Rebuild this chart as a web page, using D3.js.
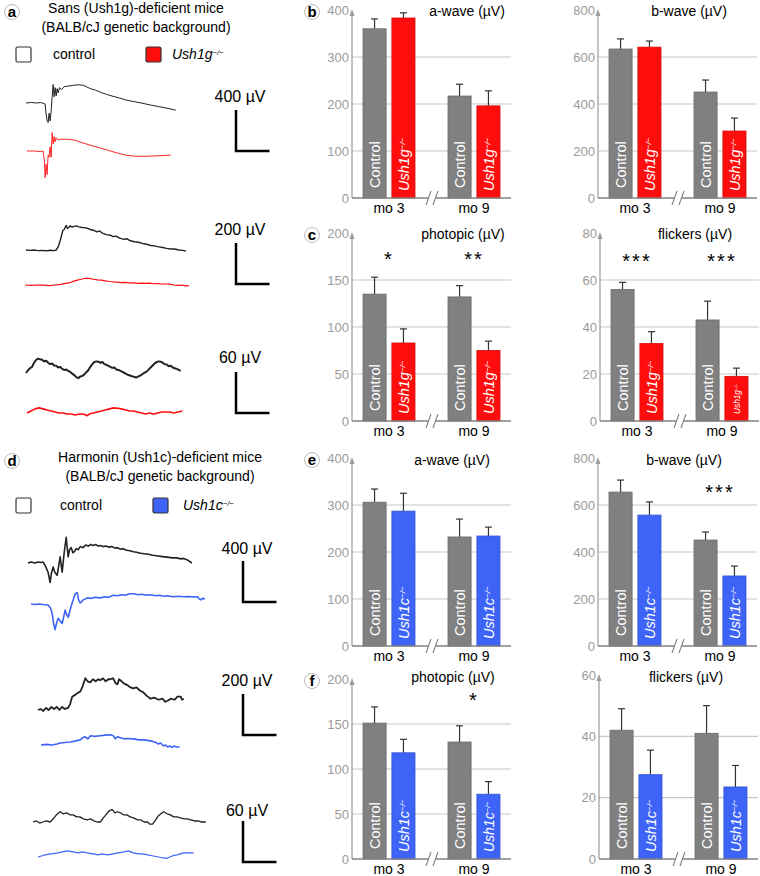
<!DOCTYPE html>
<html>
<head>
<meta charset="utf-8">
<script src="https://cdn.jsdelivr.net/npm/d3@7"></script>
<style>
	body { margin: 0; background: #fff; }
	svg { display: block; font-family: "Liberation Sans", Arial, Helvetica, sans-serif; }
</style>
</head>
<body>
<svg id="fig" width="760" height="876"></svg>
<script>

	// ---- bar data (mean, s.e.m.) per month ----
	var months = [ "mo 3", "mo 9" ];

	var sansAwaveCtrl = [ 360, 217 ], sansAwaveCtrlErr = [ 21, 25 ];
	var sansAwaveMut = [ 383, 196 ], sansAwaveMutErr = [ 11, 32 ];
	var sansBwaveCtrl = [ 634, 451 ], sansBwaveCtrlErr = [ 43, 51 ];
	var sansBwaveMut = [ 642, 285 ], sansBwaveMutErr = [ 26, 55 ];
	var sansPhotCtrl = [ 135, 132 ], sansPhotCtrlErr = [ 18, 12 ];
	var sansPhotMut = [ 83, 75 ], sansPhotMutErr = [ 15, 10 ];
	var sansFlickCtrl = [ 56, 43 ], sansFlickCtrlErr = [ 3, 8 ];
	var sansFlickMut = [ 33, 19 ], sansFlickMutErr = [ 5, 3.5 ];

	var harmAwaveCtrl = [ 306, 232 ], harmAwaveCtrlErr = [ 28, 38 ];
	var harmAwaveMut = [ 287, 234 ], harmAwaveMutErr = [ 38, 19 ];
	var harmBwaveCtrl = [ 655, 451 ], harmBwaveCtrlErr = [ 51, 34 ];
	var harmBwaveMut = [ 557, 298 ], harmBwaveMutErr = [ 56, 42 ];
	var harmPhotCtrl = [ 151, 130 ], harmPhotCtrlErr = [ 18, 18 ];
	var harmPhotMut = [ 118, 72 ], harmPhotMutErr = [ 15, 14 ];
	var harmFlickCtrl = [ 42, 41 ], harmFlickCtrlErr = [ 7, 9 ];
	var harmFlickMut = [ 27.5, 23.5 ], harmFlickMutErr = [ 8, 7 ];

	var sansPhotStars = [ "*", "**" ];
	var sansFlickStars = [ "***", "***" ];
	var harmBwaveStars = [ "", "***" ];
	var harmPhotStars = [ "", "*" ];

	// ---- ERG traces, [ms, µV] from pre-stimulus baseline ----
	var sansScotCtrl = [ [0,0],[8,5],[16,0],[22,5],[28.5,-10],[30,-110],[31.5,-170],[33,-190],[34.5,-100],[36,-175],[37.5,-80],[39,60],[40.5,180],[42,60],[43.5,150],[45,70],[46.5,140],[48,100],[50,150],[53,130],[57,160],[63,165],[70,172],[78,178],[86,172],[96,140],[104,125],[111,105],[120,85],[130,65],[140,48],[148.5,30],[160,15],[172,0],[186,-20],[198,-35],[210,-50],[223.5,-70] ];
	var sansScotMut = [ [0,0],[10,0],[20,-5],[24,0],[26,-100],[27,-260],[28.5,-130],[30,-230],[31.5,-40],[33,-60],[34.5,40],[36,-60],[37.5,180],[39,70],[40.5,140],[42,90],[43.5,130],[46,110],[51,115],[60,115],[72,105],[85,75],[98,50],[109.5,30],[122,5],[135,-20],[147,-40],[160,-50],[172,-52],[184.5,-50],[200,-45],[214.5,-40] ];
	var sansPhotCtrlTrace = [ [0,0],[6,-2],[12,0],[18,-3],[24,-2],[30,-4],[36,-1],[42,-3],[45,0],[48,15],[51,45],[53,70],[55,95],[57,100],[59,115],[60,120],[62,105],[64,110],[66,118],[69,112],[72,115],[75,118],[79,113],[84,110],[90,108],[96,100],[102,95],[106,88],[110,93],[114,82],[120,75],[126,72],[130,65],[134,68],[140,58],[146,52],[150,55],[156,45],[162,40],[168,38],[174,32],[180,28],[186,22],[192,20],[198,15],[204,12],[210,8],[216,5],[222,5],[228,0],[234,-2],[238.5,-5] ];
	var sansPhotMutTrace = [ [0,0],[9,-2],[18,0],[27,-1],[36,-3],[45,0],[54,3],[60,8],[66,10],[72,18],[78,24],[84,28],[90,33],[96,32],[102,28],[108,25],[114,24],[120,20],[126,17],[132,15],[138,14],[144,12],[150,13],[156,10],[162,10],[168,8],[174,9],[180,8],[186,9],[192,6],[198,7],[204,5],[210,5],[216,4],[222,0],[228,-2],[234,0],[240,-4],[244.5,-3] ];
	var sansFlickCtrlTrace = [ [0,0],[3,4],[6,7],[9,9],[12,15],[15,19],[18,21],[21,20],[24,19.5],[27,17],[30,18],[33,15],[36,13],[39,14],[42,11],[45,10.5],[48,8],[51,9],[54,6],[57,4.5],[60,5],[63,3],[66,1.5],[69,-1],[72,-3],[75,-6],[78,-7.5],[81,-5],[84,-4.5],[87,-2],[90,1],[93,4],[96,9],[99,13],[102,16],[105,17],[108,16.5],[111,15],[114,16],[117,13],[120,12],[123,10.5],[126,9],[129,7.5],[132,8],[135,5],[138,4.5],[141,3],[144,1.5],[147,0],[150,-1.5],[153,-3],[156,-4],[159,-5],[162,-6],[165,-6.5],[168,-5],[171,-3.5],[174,-1.5],[177,0.5],[180,2],[183,5],[186,8],[189,11],[192,14],[195,16],[198,17],[201,16.5],[204,15],[207,13],[210,12.5],[213,10],[216,10.5],[219,8],[222,7],[225,6],[228,4.5],[231,3] ];
	var sansFlickMutTrace = [ [0,0],[6,3],[12,6],[18,7.5],[24,6],[30,4.5],[36,3],[42,1.5],[48,0],[54,0],[60,-1.5],[66,-1.5],[72,-3],[78,-1.5],[84,-1.5],[90,-4],[93,-1.5],[99,0],[105,1.5],[111,3],[117,4.5],[123,6],[129,7.5],[135,7],[141,6],[147,4.5],[153,3],[159,3],[165,1.5],[171,0],[177,-1.5],[183,0],[189,-1.5],[195,0],[201,1.5],[207,1.5],[213,1.5],[219,0],[225,1.5],[232,3] ];

	var harmScotCtrl = [ [0,0],[5,10],[10,0],[15,10],[20,5],[22.5,10],[26,-30],[30,-90],[33,-190],[35,-100],[37.5,-40],[40,-90],[43.5,-120],[46,-20],[48,60],[50,-40],[51,-90],[54,100],[57,250],[59,120],[60,60],[62,130],[64.5,150],[67,100],[69,110],[72,140],[75,130],[78,160],[82,150],[86,175],[90,165],[93,180],[97,170],[101,180],[105,165],[108,170],[112,160],[116,165],[120,155],[125,160],[130,145],[133.5,150],[138,135],[142,140],[147,125],[152,120],[157.5,110],[162,105],[168,95],[174,90],[180,85],[186,75],[192,70],[198,65],[204,60],[210,55],[216,50],[222,50],[228,40],[232.5,45],[238,30],[244.5,0] ];
	var harmScotMut = [ [0,0],[6,-5],[12,0],[18,-5],[25.5,-10],[29,-40],[31.5,-90],[34,-200],[36,-250],[38,-190],[40.5,-140],[43,-160],[46.5,-190],[49,-120],[51,-60],[53,-100],[55.5,-130],[60,-20],[64,60],[66,100],[69,110],[71,40],[73.5,10],[78,40],[84,60],[90,55],[96,65],[103.5,60],[110,70],[116,65],[122,85],[129,80],[135,90],[141,85],[147,100],[153,100],[160,90],[166,95],[172,85],[178.5,90],[186,80],[192,85],[198,75],[204,80],[212,70],[220,75],[228,70],[236,72],[244,68],[249,70],[251,50],[253.5,40],[256,55],[259.5,50] ];
	var harmPhotCtrlTrace = [ [0,0],[4,5],[8,-5],[12,10],[16,0],[20,15],[24,5],[28,15],[32,0],[36,15],[40,5],[45,10],[48,30],[51,65],[56,75],[60,85],[63,90],[66,110],[70.5,155],[74,140],[78,135],[82,150],[86,140],[90,150],[93,145],[97,155],[101,140],[105,150],[108,150],[112,155],[116,130],[118.5,125],[121,150],[123,145],[128,130],[134,120],[138,110],[142.5,105],[147,110],[152,95],[157.5,85],[162,70],[168,55],[174,60],[180,50],[186,55],[190,40],[193.5,45],[198,55],[204,50],[208,65],[213,65],[215,50],[217.5,55] ];
	var harmPhotMutTrace = [ [0,0],[8,3],[16,0],[24,5],[28.5,10],[36,12],[44,15],[52,20],[58.5,25],[62,35],[66,40],[70,30],[74,45],[80,42],[88.5,45],[96,48],[103.5,50],[108,45],[111,30],[114,40],[118.5,35],[124,30],[130,32],[138,30],[146,25],[154,25],[163.5,20],[170,15],[175,5],[178.5,10],[183,-5],[186,0],[189,-10],[192,-5],[196,-12],[198,-5],[202,-10],[207,-10] ];
	var harmFlickCtrlTrace = [ [0,0],[5,1.5],[10,-1.5],[15,0],[20,1.5],[25.5,0],[30,4.5],[35,10.5],[40.5,15],[45,12],[50,13.5],[55.5,10.5],[60,10.5],[65,7.5],[70,7.5],[75,4.5],[81,3],[86,4.5],[91,1.5],[96,0],[100.5,0],[105,6],[110,12],[114,16.5],[118.5,18],[122,13.5],[126,15],[130.5,13.5],[135,10.5],[140,10.5],[145,7.5],[150,6],[156,3],[161,3],[166,0],[171,0],[174,-3],[178.5,-3],[183,3],[187,9],[191,12],[195,15],[200,12],[205,10.5],[210,7.5],[215,7.5],[220,6],[226,4.5],[230,4.5],[235.5,3],[241,1.5],[246,1.5],[252,0],[258,0] ];
	var harmFlickMutTrace = [ [0,0],[10,3],[20,4.5],[30,6],[43.5,9],[52,7.5],[60,6],[66,7.5],[73.5,6],[82,4.5],[90,3],[96,4.5],[103.5,3],[112,4.5],[120,6],[128,7.5],[135,9],[142,6],[150,4.5],[156,4.5],[163.5,3],[172,1.5],[180,0],[187,-1.5],[193.5,-1.5],[200,1.5],[207,3],[212,4.5],[217.5,6],[225,6],[232.5,6] ];

	var RED = "#ff0d0d", BLUE = "#3d64f7", GRAY = "#808080";
	var svg = d3.select("#fig");

	var circleLabel = function(x, y, letter) {
		svg.append("circle").attr("cx", x).attr("cy", y).attr("r", 7.5)
			.attr("fill", "#fff").attr("stroke", "#bbb").attr("stroke-width", 1);
		svg.append("text").attr("x", x).attr("y", y).attr("dy", "0.36em")
			.attr("text-anchor", "middle").style("font-size", "15px").style("font-weight", "bold")
			.text(letter);
	};

	var mutantText = function(sel, name, size) {
		sel.append("tspan").style("font-style", "italic").text(name);
		sel.append("tspan").attr("baseline-shift", "super").style("font-size", (size * 0.55) + "px")
			.style("font-style", "italic").text("\u2212/\u2212");
	};

	// ---- left column: titles, legend, traces ----
	var headers = [
		{ letter: "a", y: 12, l1: "Sans (Ush1g)-deficient mice", cx: 136, legY: 54, name: "Ush1g", color: RED, boxX: 146, nameX: 172, ctrlX: 53 },
		{ letter: "d", y: 461, l1: "Harmonin (Ush1c)-deficient mice", cx: 160, legY: 505, name: "Ush1c", color: BLUE, boxX: 153, nameX: 183, ctrlX: 60 }
	];
	headers.forEach(function(h) {
		circleLabel(12, h.y, h.letter);
		svg.append("text").attr("x", h.cx).attr("y", h.y - 4).attr("dy", "0.35em").attr("text-anchor", "middle")
			.style("font-size", "14px").text(h.l1);
		svg.append("text").attr("x", h.cx).attr("y", h.y + 15).attr("dy", "0.35em").attr("text-anchor", "middle")
			.style("font-size", "14px").text("(BALB/cJ genetic background)");
		svg.append("rect").attr("x", 16).attr("y", h.legY - 7).attr("width", 15).attr("height", 15).attr("rx", 1.5)
			.attr("fill", "#fff").attr("stroke", "#333").attr("stroke-width", 1.2);
		svg.append("text").attr("x", h.ctrlX).attr("y", h.legY).attr("dy", "0.35em").style("font-size", "14px").text("control");
		svg.append("rect").attr("x", h.boxX).attr("y", h.legY - 7).attr("width", 15).attr("height", 15).attr("rx", 1.5)
			.attr("fill", h.color).attr("stroke", "#333").attr("stroke-width", 1.2);
		svg.append("text").attr("x", h.nameX).attr("y", h.legY).attr("dy", "0.35em").style("font-size", "14px")
			.call(mutantText, h.name, 14);
	});

	var traceRows = [
		{ ctrl: sansScotCtrl, mut: sansScotMut, uv: 400, x0: 26, mx0: 27, base: 103, mbase: 151, color: RED, w: [ 1, 0.9 ], barX: 236, barBottom: 151, label: "400 \u00b5V", labelY: 96 },
		{ ctrl: sansPhotCtrlTrace, mut: sansPhotMutTrace, uv: 200, x0: 26, mx0: 25, base: 250, mbase: 285, color: RED, w: [ 1.4, 1.2 ], barX: 236, barBottom: 284, label: "200 \u00b5V", labelY: 229 },
		{ ctrl: sansFlickCtrlTrace, mut: sansFlickMutTrace, uv: 60, x0: 26, mx0: 27, base: 373, mbase: 413, color: RED, w: [ 2, 1.6 ], barX: 236, barBottom: 413, label: "60 \u00b5V", labelY: 357 },
		{ ctrl: harmScotCtrl, mut: harmScotMut, uv: 400, x0: 28, mx0: 31, base: 563, mbase: 604, color: BLUE, w: [ 1.6, 1.6 ], barX: 243, barBottom: 602, label: "400 \u00b5V", labelY: 548 },
		{ ctrl: harmPhotCtrlTrace, mut: harmPhotMutTrace, uv: 200, x0: 38, mx0: 41, base: 710, mbase: 745, color: BLUE, w: [ 1.8, 1.6 ], barX: 243, barBottom: 735, label: "200 \u00b5V", labelY: 680 },
		{ ctrl: harmFlickCtrlTrace, mut: harmFlickMutTrace, uv: 60, x0: 33, mx0: 38, base: 822, mbase: 857, color: BLUE, w: [ 1.3, 1.2 ], barX: 243, barBottom: 862, label: "60 \u00b5V", labelY: 810 }
	];

	traceRows.forEach(function(r) {
		var t = d3.scaleLinear().domain([ 0, 50 ]).range([ 0, 33.5 ]);
		var v = d3.scaleLinear().domain([ 0, r.uv ]).range([ 0, -41 ]);
		[ [ r.ctrl, r.x0, r.base, "#222", r.w[0] ], [ r.mut, r.mx0, r.mbase, r.color, r.w[1] ] ].forEach(function(s) {
			var line = d3.line()
				.x(function(d) { return s[1] + t(d[0]); })
				.y(function(d) { return s[2] + v(d[1]); });
			svg.append("path").attr("d", line(s[0])).attr("fill", "none")
				.attr("stroke", s[3]).attr("stroke-width", s[4]).attr("stroke-linejoin", "round");
		});
		// scale bar
		var top = r.barBottom + v(r.uv);
		svg.append("path")
			.attr("d", "M" + r.barX + "," + top + "V" + r.barBottom + "H" + (r.barX + t(50)))
			.attr("fill", "none").attr("stroke", "#000").attr("stroke-width", 2.5);
		svg.append("text").attr("x", r.barX + 4).attr("y", r.labelY).attr("dy", "0.35em").attr("text-anchor", "middle")
			.style("font-size", "16px").text(r.label);
	});

	// ---- right column: bar charts ----
	var panels = [
		{ ax: 352, bottom: 198, top: 10, max: 400, step: 100, title: "a-wave (\u00b5V)", tdx: 115, ty: 11,
			ctrl: sansAwaveCtrl, ctrlErr: sansAwaveCtrlErr, mut: sansAwaveMut, mutErr: sansAwaveMutErr, name: "Ush1g", color: RED },
		{ ax: 598, bottom: 198, top: 10, max: 800, step: 200, title: "b-wave (\u00b5V)", tdx: 91, ty: 11,
			ctrl: sansBwaveCtrl, ctrlErr: sansBwaveCtrlErr, mut: sansBwaveMut, mutErr: sansBwaveMutErr, name: "Ush1g", color: RED },
		{ ax: 352, bottom: 421, top: 233, max: 200, step: 50, title: "photopic (\u00b5V)", tdx: 111, ty: 234,
			ctrl: sansPhotCtrl, ctrlErr: sansPhotCtrlErr, mut: sansPhotMut, mutErr: sansPhotMutErr, name: "Ush1g", color: RED,
			stars: sansPhotStars, starY: 266 },
		{ ax: 600, bottom: 421, top: 233, max: 80, step: 20, title: "flickers (\u00b5V)", tdx: 95, ty: 234,
			ctrl: sansFlickCtrl, ctrlErr: sansFlickCtrlErr, mut: sansFlickMut, mutErr: sansFlickMutErr, name: "Ush1g", color: RED,
			stars: sansFlickStars, starY: 268 },
		{ ax: 352, bottom: 646, top: 458, max: 400, step: 100, title: "a-wave (\u00b5V)", tdx: 100, ty: 460,
			ctrl: harmAwaveCtrl, ctrlErr: harmAwaveCtrlErr, mut: harmAwaveMut, mutErr: harmAwaveMutErr, name: "Ush1c", color: BLUE },
		{ ax: 598, bottom: 646, top: 458, max: 800, step: 200, title: "b-wave (\u00b5V)", tdx: 86, ty: 460,
			ctrl: harmBwaveCtrl, ctrlErr: harmBwaveCtrlErr, mut: harmBwaveMut, mutErr: harmBwaveMutErr, name: "Ush1c", color: BLUE,
			stars: harmBwaveStars, starY: 499 },
		{ ax: 352, bottom: 859, top: 679, max: 200, step: 50, title: "photopic (\u00b5V)", tdx: 101, ty: 677,
			ctrl: harmPhotCtrl, ctrlErr: harmPhotCtrlErr, mut: harmPhotMut, mutErr: harmPhotMutErr, name: "Ush1c", color: BLUE,
			stars: harmPhotStars, starY: 707 },
		{ ax: 599, bottom: 859, top: 675, max: 60, step: 20, title: "flickers (\u00b5V)", tdx: 87, ty: 677,
			ctrl: harmFlickCtrl, ctrlErr: harmFlickCtrlErr, mut: harmFlickMut, mutErr: harmFlickMutErr, name: "Ush1c", color: BLUE }
	];

	circleLabel(312, 12, "b");
	circleLabel(312, 235, "c");
	circleLabel(312, 460, "e");
	circleLabel(312, 681, "f");

	panels.forEach(function(p) {
		var g = svg.append("g");
		var W = 159;
		var y = d3.scaleLinear().domain([ 0, p.max ]).range([ p.bottom, p.top ]);
		var xg = d3.scalePoint().domain(months).range([ p.ax + 37, p.ax + 122 ]);
		var xb = d3.scaleBand().domain([ "ctrl", "mut" ]).range([ -26, 26 ]).paddingInner(0.2);
		var ticks = d3.range(0, p.max + 1, p.step);

		g.selectAll(".grid").data(ticks.filter(function(d) { return d > 0 && d < p.max; }))
			.enter().append("line")
			.attr("x1", p.ax).attr("x2", p.ax + W)
			.attr("y1", function(d) { return y(d); }).attr("y2", function(d) { return y(d); })
			.attr("stroke", "#c8c8c8").attr("stroke-width", 1.2);

		g.selectAll(".tick").data(ticks).enter().append("text")
			.attr("x", p.ax - 3).attr("y", function(d) { return y(d); }).attr("dy", "0.35em")
			.attr("text-anchor", "end").attr("fill", "#9a9a9a").style("font-size", "13px")
			.text(function(d) { return d; });

		// y axis with arrow
		g.append("line").attr("x1", p.ax).attr("x2", p.ax).attr("y1", p.bottom).attr("y2", y(p.max) + 2)
			.attr("stroke", "#9a9a9a").attr("stroke-width", 1.2);
		g.append("path").attr("d", "M" + (p.ax - 2.5) + "," + (y(p.max) + 6) + "L" + p.ax + "," + (y(p.max) - 1) + "L" + (p.ax + 2.5) + "," + (y(p.max) + 6) + "Z")
			.attr("fill", "#9a9a9a");

		var bars = [];
		months.forEach(function(m, i) {
			bars.push({ m: m, k: "ctrl", v: p.ctrl[i], e: p.ctrlErr[i], fill: GRAY });
			bars.push({ m: m, k: "mut", v: p.mut[i], e: p.mutErr[i], fill: p.color });
		});

		bars.forEach(function(b) {
			var x = xg(b.m) + xb(b.k);
			var cx = x + xb.bandwidth() / 2;
			g.append("line").attr("x1", cx).attr("x2", cx).attr("y1", y(b.v)).attr("y2", y(b.v + b.e))
				.attr("stroke", "#333").attr("stroke-width", 1.2);
			g.append("line").attr("x1", cx - 3.5).attr("x2", cx + 3.5).attr("y1", y(b.v + b.e)).attr("y2", y(b.v + b.e))
				.attr("stroke", "#333").attr("stroke-width", 1.2);
			g.append("rect").attr("x", x).attr("y", y(b.v)).attr("width", xb.bandwidth()).attr("height", p.bottom - y(b.v))
				.attr("fill", b.fill).attr("stroke", d3.color(b.fill).darker(0.5)).attr("stroke-width", 0.8);

			var size = 14.5;
			var room = p.bottom - y(b.v) - 14;
			var label = g.append("text")
				.attr("transform", "translate(" + (cx + 0.5) + "," + (p.bottom - (b.k == "ctrl" ? 10 : 7)) + ") rotate(-90)")
				.attr("dy", "0.36em").attr("fill", "#fff");
			if (b.k == "ctrl") {
				label.style("font-size", size + "px").text("Control");
			} else {
				label.style("font-size", size + "px").call(mutantText, p.name, size);
				var len = label.node().getComputedTextLength();
				if (len > room) {
					size = size * room / len;
					label.selectAll("tspan").remove();
					label.style("font-size", size + "px").call(mutantText, p.name, size);
				}
			}
		});

		// x axis with break
		g.append("line").attr("x1", p.ax).attr("x2", p.ax + W).attr("y1", p.bottom).attr("y2", p.bottom)
			.attr("stroke", "#808080").attr("stroke-width", 1.6);
		var bx = p.ax + 80;
		g.append("rect").attr("x", bx - 4).attr("y", p.bottom - 2).attr("width", 8).attr("height", 4).attr("fill", "#fff");
		g.append("path").attr("d", "M" + (bx - 6) + "," + (p.bottom + 7) + "L" + (bx - 1) + "," + (p.bottom - 7)
				+ "M" + (bx + 1) + "," + (p.bottom + 7) + "L" + (bx + 6) + "," + (p.bottom - 7))
			.attr("stroke", "#808080").attr("stroke-width", 1.1).attr("fill", "none");

		g.selectAll(".mo").data(months).enter().append("text")
			.attr("x", function(d) { return xg(d); }).attr("y", p.bottom + 15)
			.attr("text-anchor", "middle").style("font-size", "14px")
			.text(function(d) { return d; });

		g.append("text").attr("x", p.ax + p.tdx).attr("y", p.ty).attr("dy", "0.35em").attr("text-anchor", "middle")
			.style("font-size", "14px").text(p.title);

		if (p.stars) {
			g.selectAll(".star").data(p.stars).enter().append("text")
				.attr("x", function(d, i) { return xg(months[i]); }).attr("y", p.starY)
				.attr("text-anchor", "middle").style("font-size", "20px").style("letter-spacing", "2px")
				.text(function(d) { return d; });
		}
	});

</script>
</body>
</html>
